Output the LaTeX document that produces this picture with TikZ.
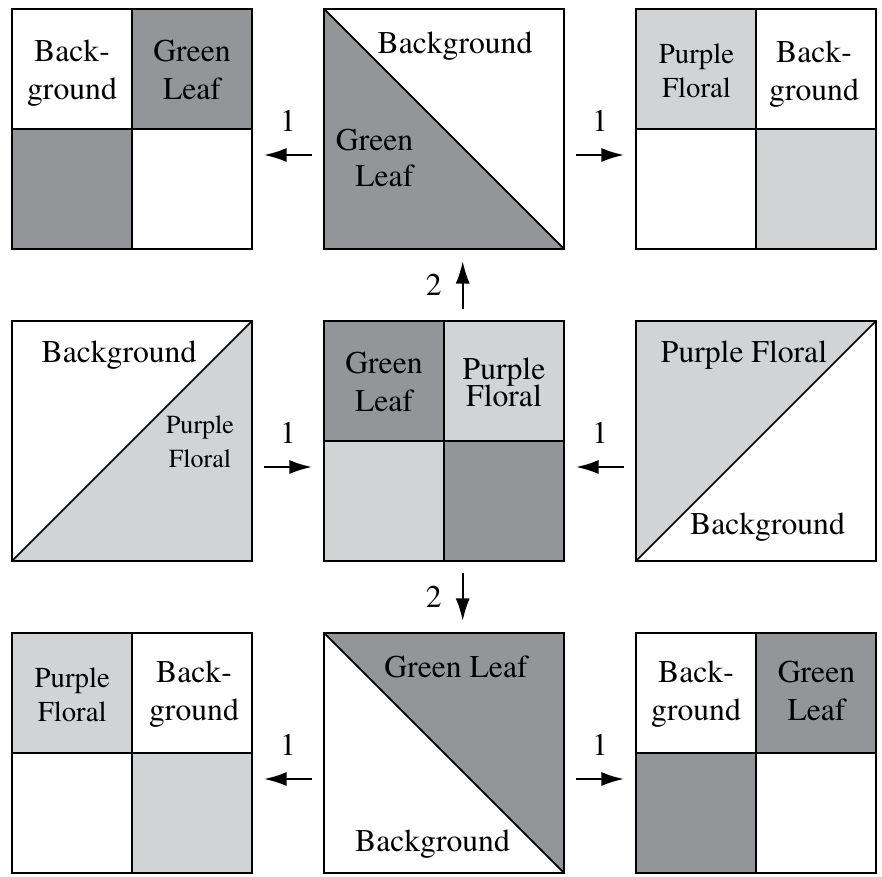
\documentclass[tikz,border=0pt]{standalone}
\usepackage[T1]{fontenc}
\usepackage{times}
\usetikzlibrary{arrows.meta,backgrounds}

\definecolor{leafgray}{RGB}{147,149,152}
\definecolor{floralgray}{RGB}{209,211,212}

\tikzset{
  block/.style={draw, line width=0.5pt, minimum size=2.4cm, inner sep=0pt, outer sep=0pt},
  seam/.style={line width=0.5pt},
  movearrow/.style={-{Latex[length=6.4pt,width=4pt]}, line width=0.6pt,
    shorten <=0.12cm, shorten >=0.12cm},
  lab/.style={font=\rmfamily\fontsize{9}{11}\selectfont, inner sep=0pt, align=center},
  steplab/.style={font=\rmfamily\fontsize{9}{11}\selectfont, inner sep=0pt},
}

\begin{document}
\begin{tikzpicture}[x=0.01cm, y=-0.01cm]
  \useasboundingbox (0,0) rectangle (882,877);

  % --- 1. ブロック (正方形 3x3) ---
  \node[block] (tl) at (132,129) {};
  \node[block] (tm) at (444,129) {};
  \node[block] (tr) at (756,129) {};
  \node[block] (ml) at (132,441) {};
  \node[block] (mm) at (444,441) {};
  \node[block] (mr) at (756,441) {};
  \node[block] (bl) at (132,753) {};
  \node[block] (bm) at (444,753) {};
  \node[block] (br) at (756,753) {};

  % --- 2. 塗り (背景レイヤー) ---
  \begin{scope}[on background layer]
    % 上段
    \fill[leafgray] (tl.north) rectangle (tl.east);
    \fill[leafgray] (tl.west) rectangle (tl.south);
    \fill[leafgray] (tm.north west) -- (tm.south west) -- (tm.south east) -- cycle;
    \fill[floralgray] (tr.north west) rectangle (tr.center);
    \fill[floralgray] (tr.center) rectangle (tr.south east);
    % 中段
    \fill[floralgray] (ml.south west) -- (ml.south east) -- (ml.north east) -- cycle;
    \fill[leafgray] (mm.north west) rectangle (mm.center);
    \fill[floralgray] (mm.north) rectangle (mm.east);
    \fill[floralgray] (mm.west) rectangle (mm.south);
    \fill[leafgray] (mm.center) rectangle (mm.south east);
    \fill[floralgray] (mr.north west) -- (mr.north east) -- (mr.south west) -- cycle;
    % 下段
    \fill[floralgray] (bl.north west) rectangle (bl.center);
    \fill[floralgray] (bl.center) rectangle (bl.south east);
    \fill[leafgray] (bm.north west) -- (bm.north east) -- (bm.south east) -- cycle;
    \fill[leafgray] (br.north) rectangle (br.east);
    \fill[leafgray] (br.west) rectangle (br.south);
  \end{scope}

  % --- 3. 継ぎ目 (十字と対角線) ---
  \draw[seam] (tl.north) -- (tl.south) (tl.west) -- (tl.east);
  \draw[seam] (tm.north west) -- (tm.south east);
  \draw[seam] (tr.north) -- (tr.south) (tr.west) -- (tr.east);
  \draw[seam] (ml.south west) -- (ml.north east);
  \draw[seam] (mm.north) -- (mm.south) (mm.west) -- (mm.east);
  \draw[seam] (mr.south west) -- (mr.north east);
  \draw[seam] (bl.north) -- (bl.south) (bl.west) -- (bl.east);
  \draw[seam] (bm.north west) -- (bm.south east);
  \draw[seam] (br.north) -- (br.south) (br.west) -- (br.east);

  % --- 4. 布地のラベル ---
  \node[lab, anchor=north] (tlbg) at (72,39) {Back-\\ground};
  \node[lab, anchor=north] (tlgl) at (192,39) {Green\\Leaf};
  \node[lab, anchor=base] (tmbg) at (455,54) {Background};
  \node[lab, anchor=north east, align=right, font=\rmfamily\fontsize{9}{10.4}\selectfont] (tmgl) at (414,128) {Green\\Leaf};
  \node[lab, anchor=north, font=\rmfamily\fontsize{8.2}{9.6}\selectfont] (trpf) at (696.5,43.6) {Purple\\Floral};
  \node[lab, anchor=north] (trbg) at (814,40) {Back-\\ground};

  \node[lab, anchor=base] (mlbg) at (119,363) {Background};
  \node[lab, anchor=north, font=\rmfamily\fontsize{7.4}{9.5}\selectfont] (mlpf) at (200,415.5) {Purple\\Floral};
  \node[lab, anchor=north] (mmgl) at (384,351) {Green\\Leaf};
  \node[lab, anchor=north, font={\rmfamily\fontsize{9}{7.7}\selectfont\lineskiplimit=-10pt}] (mmpf) at (504,357.5) {Purple\\Floral};
  \node[lab, anchor=base] (mrpf) at (744,363) {Purple Floral};
  \node[lab, anchor=base] (mrbg) at (767.5,535) {Background};

  \node[lab, anchor=north, font=\rmfamily\fontsize{8.2}{9.6}\selectfont] (blpf) at (72.2,667) {Purple\\Floral};
  \node[lab, anchor=north] (blbg) at (194,660) {Back-\\ground};
  \node[lab, anchor=base] (bmgl) at (456,678) {Green Leaf};
  \node[lab, anchor=base] (bmbg) at (432.5,852) {Background};
  \node[lab, anchor=north] (brbg) at (696,660) {Back-\\ground};
  \node[lab, anchor=north] (brgl) at (816.5,660) {Green\\Leaf};

  % --- 5. 手順の矢印 ---
  \draw[movearrow] ([yshift=-0.26cm]tm.west) -- node[steplab, above=0.22cm] {1} ([yshift=-0.26cm]tl.east);
  \draw[movearrow] ([yshift=-0.26cm]tm.east) -- node[steplab, above=0.22cm] {1} ([yshift=-0.26cm]tr.west);
  \draw[movearrow] ([yshift=-0.26cm]ml.east) -- node[steplab, above=0.22cm] {1} ([yshift=-0.26cm]mm.west);
  \draw[movearrow] ([yshift=-0.26cm]mr.west) -- node[steplab, above=0.22cm] {1} ([yshift=-0.26cm]mm.east);
  \draw[movearrow] ([yshift=-0.26cm]bm.west) -- node[steplab, above=0.22cm] {1} ([yshift=-0.26cm]bl.east);
  \draw[movearrow] ([yshift=-0.26cm]bm.east) -- node[steplab, above=0.22cm] {1} ([yshift=-0.26cm]br.west);

  \draw[movearrow] ([xshift=0.187cm]mm.north) -- node[steplab, left=0.2cm] {2} ([xshift=0.187cm]tm.south);
  \draw[movearrow] ([xshift=0.187cm]mm.south) -- node[steplab, left=0.2cm] {2} ([xshift=0.187cm]bm.north);

\end{tikzpicture}
\end{document}
